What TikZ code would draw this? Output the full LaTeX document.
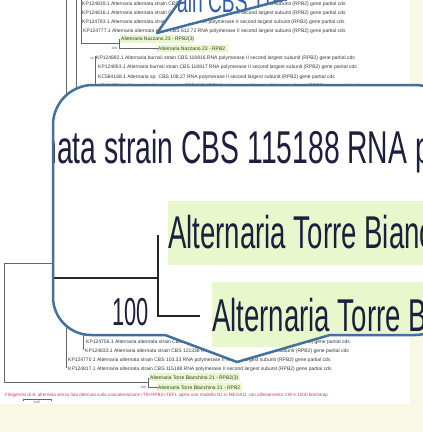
\documentclass[tikz,border=0pt]{standalone}
\usepackage{fontspec}
\setmainfont{Liberation Sans}
\newfontfamily\leaffont{Liberation Sans}
\newfontfamily\magfont[FakeStretch=0.6]{Liberation Sans}
\newfontfamily\accfont[FakeStretch=0.615]{Liberation Sans}
\newfontfamily\bootfont[FakeStretch=0.56]{Liberation Sans}

\definecolor{paper}{RGB}{248,248,228}
\definecolor{hlgreen}{RGB}{232,248,204}
\definecolor{calloutblue}{RGB}{65,113,156}
\definecolor{magink}{RGB}{30,30,62}
\definecolor{topink}{RGB}{48,92,170}
\definecolor{captionred}{RGB}{200,64,96}

\tikzset{
  leaf/.style={font=\leaffont\fontsize{5}{6}\selectfont, text=black!78, inner sep=0pt, anchor=base west},
  tinylabel/.style={font=\leaffont\fontsize{3.2}{4}\selectfont, text=black!70, inner sep=0pt},
  hlbox/.style={fill=hlgreen},
  branch/.style={draw=black!60, line width=0.5pt},
  mag/.style={font=\magfont\fontsize{46}{50}\selectfont, text=magink, inner sep=0pt},
  accmag/.style={font=\accfont\fontsize{46}{50}\selectfont, text=magink, inner sep=0pt},
  boot/.style={font=\bootfont\fontsize{39}{42}\selectfont, text=magink, inner sep=0pt},
  topmag/.style={font=\magfont\fontsize{32}{36}\selectfont, text=topink, inner sep=0pt},
  stem/.style={draw=black!85, line cap=butt},
  callout/.style={draw=calloutblue, line width=2.5pt, line join=round}
}

% outline of the large magnifier bubble with its pointer
\def\bubble{(53,-125) -- (53,-297) arc[start angle=180,end angle=270,radius=38]
  -- (165,-335) -- (237,-362) -- (330,-335) -- (415,-335)
  arc[start angle=270,end angle=360,radius=40] -- (455,-125)
  arc[start angle=0,end angle=90,radius=40] -- (93,-85)
  arc[start angle=90,end angle=180,radius=40] -- cycle}

\begin{document}
\begin{tikzpicture}[x=1pt,y=1pt]
\useasboundingbox (0,0) rectangle (423,-432);
\clip (0,0) rectangle (423,-432);
\fill[paper] (0,0) rectangle (423,-432);
\fill[white] (0,0) rectangle (410,-404);

% ---------- small tree (screenshot) ----------
\begin{scope}
\clip (0,0) rectangle (410,-404);
% upper clade
\node[leaf] (t1) at (82,-5) {KP124839.1 Alternaria alternata strain CBS 116651 RNA polymerase II second largest subunit (RPB2) gene partial cds};
\node[leaf] (t2) at (82,-14) {KP124816.1 Alternaria alternata strain CBS 115617 RNA polymerase II second largest subunit (RPB2) gene partial cds};
\node[leaf] (t3) at (82,-23) {KP124793.1 Alternaria alternata strain CBS 106.24 RNA polymerase II second largest subunit (RPB2) gene partial cds};
\node[leaf] (t4) at (83,-32) {KP124777.1 Alternaria alternata strain CBS 612.72 RNA polymerase II second largest subunit (RPB2) gene partial cds};
\fill[hlbox] (120,-35) rectangle (193,-42.5);
\fill[hlbox] (157,-44.5) rectangle (228,-52);
\node[leaf] (n1) at (121,-40.5) {Alternaria Nazzano 23 - RPB2(3)};
\node[leaf] (n2) at (158,-50) {Alternaria Nazzano 23 - RPB2};
\node[tinylabel, anchor=base east] (bn) at (117,-49) {100};
\node[leaf] (u1) at (96,-59) {KP124892.1 Alternaria burnsii strain CBS 118816 RNA polymerase II second largest subunit (RPB2) gene partial cds};
\node[leaf] (u2) at (98,-68.5) {KP124893.1 Alternaria burnsii strain CBS 118817 RNA polymerase II second largest subunit (RPB2) gene partial cds};
\node[leaf] (u3) at (98,-78) {KC584168.1 Alternaria sp. CBS 108.27 RNA polymerase II second largest subunit (RPB2) gene partial cds};
\node[leaf] (u4) at (98,-87.5) {KP124781.1 Alternaria alternata strain CBS 102.47 RNA polymerase II second largest subunit (RPB2) gene partial cds};
\node[tinylabel, anchor=base east] (bu) at (94,-59) {10};
\coordinate (c1) at (81,-43);
\coordinate (c2) at (119,-43);
\draw[branch] (66,0) -- (66,-368);
\draw[branch] (76,0) -- (76,-92);
\draw[branch] (81,0) -- (c1) -- (c2);
\draw[branch] (c2 |- n1.west) -- (c2 |- n2.west) -- (n2.west);
\draw[branch] (95,-56) -- (95,-92);
% lower clade
\node[leaf] (v1) at (86,-343.5) {KP124756.1 Alternaria alternata strain CBS 121547 RNA polymerase II second largest subunit (RPB2) gene partial cds};
\node[leaf] (v2) at (85,-352) {KP124833.1 Alternaria alternata strain CBS 121336 RNA polymerase II second largest subunit (RPB2) gene partial cds};
\node[leaf] (v3) at (68,-361) {KP124770.1 Alternaria alternata strain CBS 103.33 RNA polymerase II second largest subunit (RPB2) gene partial cds};
\node[leaf] (v4) at (68,-370) {KP124817.1 Alternaria alternata strain CBS 115188 RNA polymerase II second largest subunit (RPB2) gene partial cds};
\draw[branch] (83,-334) -- (83,-350);
\fill[hlbox] (149,-373) rectangle (240,-381);
\fill[hlbox] (157,-383) rectangle (242,-391);
\node[leaf] (w1) at (150,-379) {Alternaria Torre Bianchina 21 - RPB2(3)};
\node[leaf] (w2) at (158,-389) {Alternaria Torre Bianchina 21 - RPB2};
\node[tinylabel, anchor=base east] (bw) at (146,-388) {100};
\coordinate (r1) at (4,-263);
\coordinate (r2) at (4,-382);
\coordinate (r3) at (148,-382);
\draw[branch] (53,-263) -- (r1) -- (r2) -- (r3);
\draw[branch] (r3 |- w1.west) -- (r3 |- w2.west) -- (w2.west);
% caption and scale bar
\node[leaf, text=captionred, font=\leaffont\fontsize{4.6}{5}\selectfont] (cap) at (5,-396.5)
  {Filogenesi di A. alternata sensu lato ottenuta sulla concatenazione ITS+RPB2+TEF1 alpha con modello NJ in MEGA11 con allineamento CW e 1000 bootstrap};
\coordinate (s1) at (23,-399.5);
\coordinate (s2) at (51,-399.5);
\draw[branch] (s1) -- (s2);
\draw[branch] (s1) ++(0,1) -- ++(0,-2);
\draw[branch] (s2) ++(0,1) -- ++(0,-2);
\node[tinylabel, anchor=north] (sl) at (37,-401.5) {0.05};
\end{scope}

% ---------- small magnifier pointer at the top ----------
\begin{scope}
\clip (182,1) -- (157,-33) -- (290,1) -- cycle;
\fill[white] (182,1) -- (157,-33) -- (290,1) -- cycle;
\node[topmag, anchor=base east] at (177,-12) {Alternaria alternata str};
\node[topmag, anchor=base west] (topacc) at (177,-12) {ain CBS 116651 RNA};
\end{scope}
\draw[callout] (182,2) -- (157,-33) -- (290,2);

% ---------- large magnifier bubble ----------
\fill[white] \bubble;
\begin{scope}
\clip \bubble;
\fill[hlbox] (168,-201) rectangle (470,-265);
\fill[hlbox] (212,-282) rectangle (470,-347);
\node[accmag, anchor=base east] at (57,-163) {Alternaria altern};
\node[accmag, anchor=base west] (acc) at (57,-163) {ata strain CBS 115188 RNA polymerase};
\node[mag, anchor=base west] (lab1) at (168,-248) {Alternaria Torre Bianchina 21 - RPB2(3)};
\node[mag, anchor=base west] (lab2) at (212,-331) {Alternaria Torre Bianchina 21 - RPB2};
\node[boot, anchor=base west] (bs) at (112,-325) {100};
\coordinate (root) at (40,-278);
\coordinate (fork) at (158,-278);
\coordinate (top) at (158,-235);
\coordinate (low) at (158,-316);
\coordinate (lowend) at (200,-316);
\draw[stem, line width=2.7pt] (root) -- (fork);
\draw[stem, line width=1.8pt] (top) -- (low) -- (lowend);
\end{scope}
\draw[callout] \bubble;
\end{tikzpicture}
\end{document}
